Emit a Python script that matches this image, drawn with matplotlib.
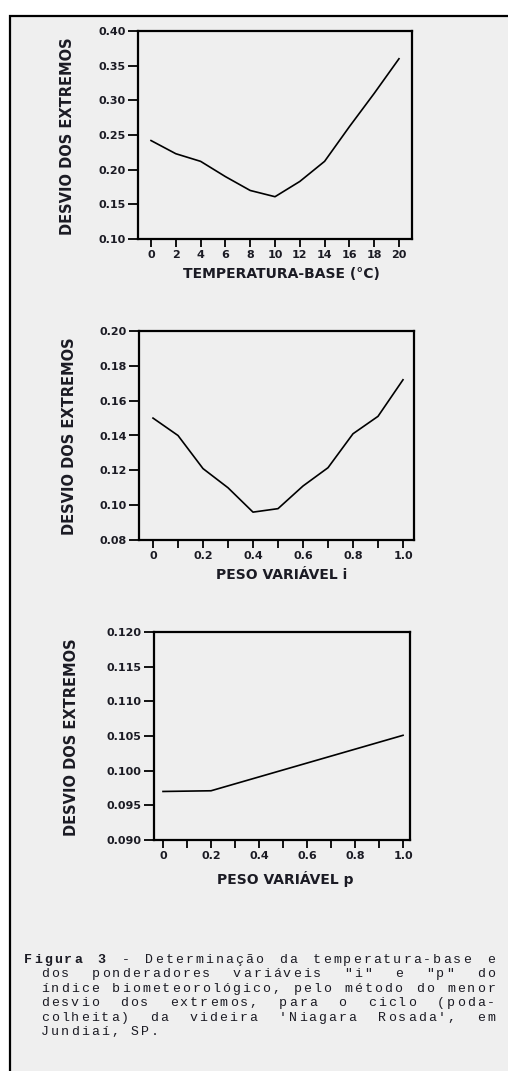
import matplotlib
matplotlib.use("Agg")
import matplotlib.pyplot as plt
from matplotlib.patches import Rectangle
from matplotlib.ticker import FixedLocator

# --- data ---
temp_base = [0, 2, 4, 6, 8, 10, 12, 14, 16, 18, 20]
desvio_temp = [0.242, 0.223, 0.212, 0.190, 0.170, 0.161, 0.183, 0.212, 0.262, 0.310, 0.360]

peso_i = [0.0, 0.1, 0.2, 0.3, 0.4, 0.5, 0.6, 0.7, 0.8, 0.9, 1.0]
desvio_i = [0.150, 0.140, 0.121, 0.110, 0.096, 0.098, 0.111, 0.1215, 0.141, 0.151, 0.172]

peso_p = [0.0, 0.2, 0.4, 0.6, 0.8, 1.0]
desvio_p = [0.097, 0.0971, 0.0991, 0.1011, 0.1031, 0.1051]

# ticks
temp_xticks = [0, 2, 4, 6, 8, 10, 12, 14, 16, 18, 20]
temp_yticks = [0.10, 0.15, 0.20, 0.25, 0.30, 0.35, 0.40]
temp_ylabels = ["0.10", "0.15", "0.20", "0.25", "0.30", "0.35", "0.40"]
peso_xticks = [0.0, 0.2, 0.4, 0.6, 0.8, 1.0]
peso_xlabels = ["0", "0.2", "0.4", "0.6", "0.8", "1.0"]
peso_minor = [0.1, 0.3, 0.5, 0.7, 0.9]
i_yticks = [0.08, 0.10, 0.12, 0.14, 0.16, 0.18, 0.20]
i_ylabels = ["0.08", "0.10", "0.12", "0.14", "0.16", "0.18", "0.20"]
p_yticks = [0.090, 0.095, 0.100, 0.105, 0.110, 0.115, 0.120]
p_ylabels = ["0.090", "0.095", "0.100", "0.105", "0.110", "0.115", "0.120"]

YLABEL = "DESVIO DOS EXTREMOS"
caption = [
    "Figura 3 - Determinação da temperatura-base e",
    'dos ponderadores variáveis "i" e "p" do',
    "índice biometeorológico, pelo método do menor",
    "desvio dos extremos, para o ciclo (poda-",
    "colheita) da videira 'Niagara Rosada', em",
    "Jundiaí, SP.",
]
# ----------------

W, H = 508, 1071
INK = "#1b1b24"
PAPER = "#efefef"

def box(left, top, right, bottom):
    return [left / W, 1 - bottom / H, (right - left) / W, (bottom - top) / H]

def fx(x):
    return x / W

def fy(y):
    return 1 - y / H

fig = plt.figure(figsize=(W / 100, H / 100), dpi=100)
fig.patch.set_facecolor("white")

# page frame: only the left and top edges fall inside the canvas
fig.add_artist(Rectangle((fx(10), fy(1100)), fx(600), (1100 - 16) / H,
                         transform=fig.transFigure, facecolor=PAPER,
                         edgecolor="black", linewidth=1.6, zorder=0))

def style_axes(ax):
    ax.set_facecolor("none")
    for sp in ax.spines.values():
        sp.set_linewidth(1.6)
        sp.set_color("black")
    ax.tick_params(which="both", direction="out", length=6, width=1.3,
                   colors="black", labelcolor=INK, labelsize=8, pad=2)
    ax.tick_params(axis="y", length=7)
    for lab in ax.get_xticklabels() + ax.get_yticklabels():
        lab.set_fontweight("bold")

def put_labels(ax, xlab, xpos, ypos):
    ax.set_xlabel(xlab, fontsize=10, fontweight="bold", color=INK, va="center")
    ax.xaxis.set_label_coords(fx(xpos[0]), fy(xpos[1]), transform=fig.transFigure)
    ax.set_ylabel(YLABEL, fontsize=10.5, fontweight="bold", color=INK, va="center")
    ax.yaxis.set_label_coords(fx(ypos[0]), fy(ypos[1]), transform=fig.transFigure)

# panel 1: temperatura-base
ax1 = fig.add_axes(box(138, 31, 412, 239))
ax1.plot(temp_base, desvio_temp, color="black", lw=1.2)
ax1.set_xlim(-1.05, 21.05)
ax1.set_ylim(0.10, 0.40)
ax1.set_xticks(temp_xticks)
ax1.set_xticklabels([str(t) for t in temp_xticks])
ax1.set_yticks(temp_yticks)
ax1.set_yticklabels(temp_ylabels)
style_axes(ax1)
put_labels(ax1, "TEMPERATURA-BASE (°C)", (281, 274), (68, 136))

# panel 2: peso variavel i
ax2 = fig.add_axes(box(139, 331, 414, 540))
ax2.plot(peso_i, desvio_i, color="black", lw=1.2)
ax2.set_xlim(-0.056, 1.044)
ax2.set_ylim(0.08, 0.20)
ax2.set_xticks(peso_xticks)
ax2.set_xticklabels(peso_xlabels)
ax2.xaxis.set_minor_locator(FixedLocator(peso_minor))
ax2.set_yticks(i_yticks)
ax2.set_yticklabels(i_ylabels)
style_axes(ax2)
put_labels(ax2, "PESO VARIÁVEL i", (282, 575), (70, 436))

# panel 3: peso variavel p
ax3 = fig.add_axes(box(154, 632, 410, 840))
ax3.plot(peso_p, desvio_p, color="black", lw=1.2)
ax3.set_xlim(-0.0375, 1.029)
ax3.set_ylim(0.090, 0.120)
ax3.set_xticks(peso_xticks)
ax3.set_xticklabels(peso_xlabels)
ax3.xaxis.set_minor_locator(FixedLocator(peso_minor))
ax3.set_yticks(p_yticks)
ax3.set_yticklabels(p_ylabels)
style_axes(ax3)
put_labels(ax3, "PESO VARIÁVEL p", (285, 879), (72, 737))

# caption: typewriter text, justified, drawn on a fixed character pitch
pitch = 10.0
right_edge = 496
for n, line in enumerate(caption):
    words = line.split()
    x0 = 23 if n == 0 else 40
    y = 960 + 14.4 * n
    nchar = sum(len(w) for w in words)
    last = n == len(caption) - 1
    if not last and len(words) > 1:
        gap = (right_edge - x0 - nchar * pitch) / (len(words) - 1)
    else:
        gap = pitch
    x = x0
    for k, w in enumerate(words):
        bold = n == 0 and k < 2
        for c in w:
            fig.text(fx(x + pitch / 2), fy(y), c, family="Liberation Mono",
                     fontsize=9.5, fontweight="bold" if bold else "normal",
                     color=INK, ha="center", va="center")
            x += pitch
        x += gap

fig.savefig("out.png", dpi=100, facecolor=fig.get_facecolor())
